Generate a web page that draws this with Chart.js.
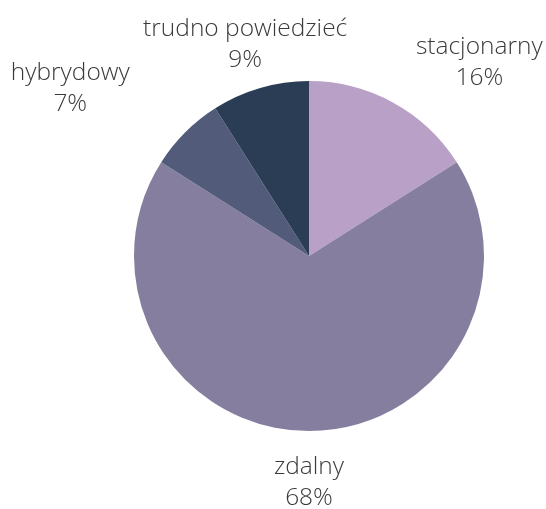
<!DOCTYPE html>
<html>
<head>
<meta charset="utf-8">
<script src="https://cdn.jsdelivr.net/npm/chart.js@4/dist/chart.umd.min.js"></script>
<style>
  html, body { margin: 0; padding: 0; background: #fff; }
  #wrap { width: 546px; height: 509px; }
</style>
</head>
<body>
<div id="wrap"><canvas id="myChart" width="546" height="509"></canvas></div>
<script>
const categories = ['stacjonarny', 'zdalny', 'hybrydowy', 'trudno powiedzieć'];
const shares = [16, 68, 7, 9];
const sliceColors = ['#b9a0c6', '#857e9f', '#525c7a', '#2b3d55'];

// nudges of each label box centre from the slice's outer mid point
const labelNudge = [[86, -41], [0, 51], [-115, -44], [-15, -44]];

const pieLabels = {
  id: 'pieLabels',
  afterDatasetsDraw(chart) {
    const ctx = chart.ctx;
    const meta = chart.getDatasetMeta(0);
    ctx.save();
    ctx.font = '300 24.5px "Open Sans"';
    ctx.fillStyle = '#3a3a3a';
    ctx.textAlign = 'center';
    ctx.textBaseline = 'middle';
    meta.data.forEach((arc, i) => {
      const mid = (arc.startAngle + arc.endAngle) / 2;
      const x = arc.x + Math.cos(mid) * arc.outerRadius + labelNudge[i][0];
      const y = arc.y + Math.sin(mid) * arc.outerRadius + labelNudge[i][1];
      ctx.fillText(categories[i], x, y - 15);
      ctx.fillText(shares[i] + '%', x, y + 16);
    });
    ctx.restore();
  }
};

window.onload = function () {
  const ctx = document.getElementById('myChart').getContext('2d');
  new Chart(ctx, {
    type: 'pie',
    data: {
      labels: categories,
      datasets: [{
        data: shares,
        backgroundColor: sliceColors,
        borderWidth: 0
      }]
    },
    options: {
      responsive: false,
      animation: false,
      layout: { padding: { top: 81, bottom: 78, left: 134, right: 62 } },
      plugins: {
        legend: { display: false },
        tooltip: { enabled: false }
      }
    },
    plugins: [pieLabels]
  });
};
</script>
</body>
</html>
